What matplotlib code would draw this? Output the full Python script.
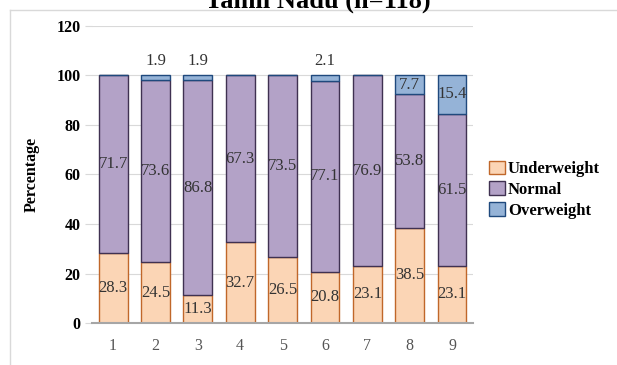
import matplotlib
matplotlib.use("Agg")
import matplotlib.pyplot as plt
from matplotlib.lines import Line2D
import numpy as np

# Data
groups = ["1", "2", "3", "4", "5", "6", "7", "8", "9"]
underweight = [28.3, 24.5, 11.3, 32.7, 26.5, 20.8, 23.1, 38.5, 23.1]
normal = [71.7, 73.6, 86.8, 67.3, 73.5, 77.1, 76.9, 53.8, 61.5]
overweight = [0.0, 1.9, 1.9, 0.0, 0.0, 2.1, 0.0, 7.7, 15.4]
title = "Tamil Nadu (n=118)"

plt.rcParams['font.family'] = ['Liberation Serif', 'DejaVu Serif']

C_UNDER, E_UNDER = '#FBD5B5', '#C0672A'
C_NORM, E_NORM = '#B3A2C7', '#3F3151'
C_OVER, E_OVER = '#95B3D7', '#1F497D'

fig = plt.figure(figsize=(6.17, 3.65), dpi=100)
ax = fig.add_axes([0.149, 0.115, 0.618, 0.814])

x = np.arange(len(groups))
w = 0.68
under = np.array(underweight)
norm = np.array(normal)
over = np.array(overweight)

ax.bar(x, under, w, color=C_UNDER, edgecolor=E_UNDER, linewidth=1.0, zorder=3, label='Underweight')
ax.bar(x, norm, w, bottom=under, color=C_NORM, edgecolor=E_NORM, linewidth=1.0, zorder=3, label='Normal')
ax.bar(x, over, w, bottom=under + norm, color=C_OVER, edgecolor=E_OVER, linewidth=1.0, zorder=3, label='Overweight')

lab = dict(ha='center', va='center', fontsize=12, color='#333333', zorder=4)
for i in range(len(groups)):
    ax.text(x[i], under[i] / 2, f'{under[i]:.1f}', **lab)
    ax.text(x[i], under[i] + norm[i] / 2, f'{norm[i]:.1f}', **lab)
    if over[i] > 0:
        if over[i] < 5:
            ax.text(x[i], 100 + over[i] + 0.5, f'{over[i]:.1f}', ha='center', va='bottom',
                    fontsize=12, color='#333333')
        else:
            ax.text(x[i], under[i] + norm[i] + over[i] / 2, f'{over[i]:.1f}', **lab)

ax.set_xlim(-0.5, len(groups) - 0.5)
ax.set_ylim(0, 120)
ax.set_yticks(np.arange(0, 121, 20))
ax.set_xticks(x)
ax.set_xticklabels(groups, fontsize=11.5, color='#555555')
for t in ax.get_yticklabels():
    t.set_fontweight('bold')
    t.set_fontsize(11.5)
ax.tick_params(axis='y', length=5, color='#D9D9D9', pad=3)
ax.tick_params(axis='x', length=0, pad=11)
ax.yaxis.grid(True, color='#D9D9D9', linewidth=0.8, zorder=0)
ax.set_axisbelow(True)
for s in ['top', 'right', 'left']:
    ax.spines[s].set_visible(False)
ax.spines['bottom'].set_color('#A6A6A6')
ax.spines['bottom'].set_linewidth(1.5)
ax.spines['bottom'].set_zorder(5)

ax.set_ylabel('Percentage', fontsize=11.5, fontweight='bold', labelpad=12)

leg = ax.legend(loc='upper left', bbox_to_anchor=(0.792, 0.56), bbox_transform=fig.transFigure,
                frameon=False, fontsize=12, handlelength=1.0, handleheight=0.9,
                handletextpad=0.15, labelspacing=0.25, borderpad=0, borderaxespad=0)
for t in leg.get_texts():
    t.set_fontweight('bold')

# outer frame and cut-off title
fig.add_artist(Line2D([10 / 617, 1], [1 - 10 / 365] * 2, color='#D9D9D9', lw=1.0))
fig.add_artist(Line2D([10 / 617] * 2, [0, 1 - 10 / 365], color='#D9D9D9', lw=1.0))
fig.text(0.515, 1 - 8 / 365, title, ha='center', va='baseline', fontsize=19, fontweight='bold')

fig.savefig('out.png', dpi=100)
